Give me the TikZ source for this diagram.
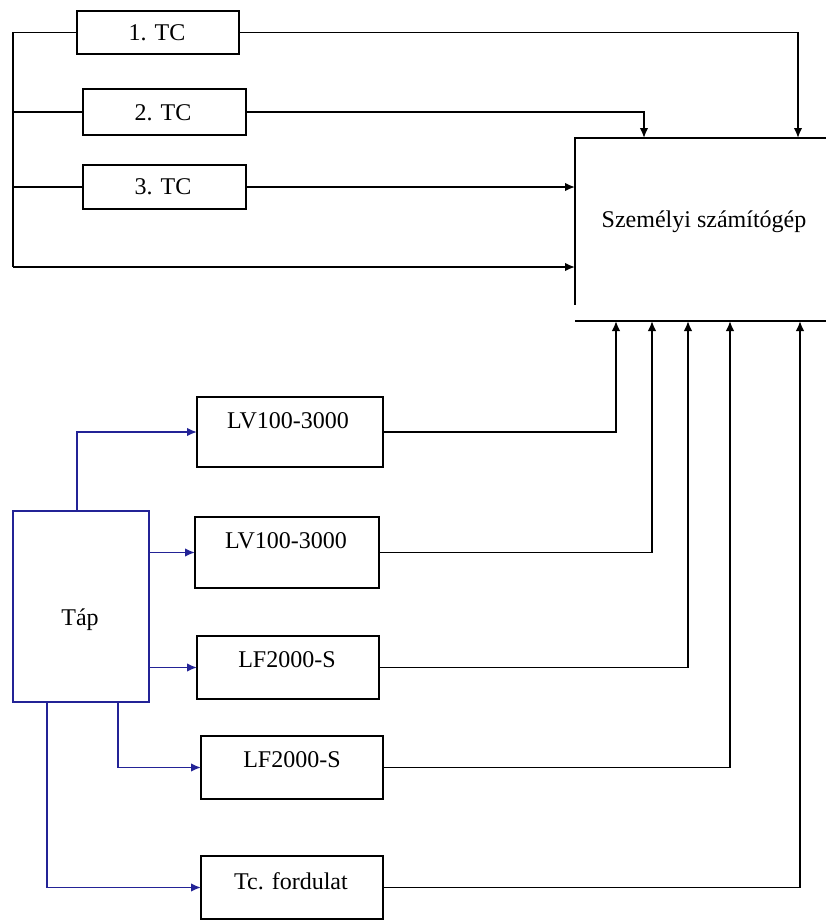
\documentclass[tikz,border=0pt]{standalone}
\usepackage{fontspec}
\setmainfont{Liberation Serif}
\usetikzlibrary{arrows.meta}
\definecolor{bl}{RGB}{35,35,150}
\begin{document}
\begin{tikzpicture}[x=1pt,y=-1pt,
  box/.style={draw=black, line width=1.7pt, inner sep=0pt, outer sep=0pt, rectangle},
  txt/.style={anchor=base, font=\fontsize{24}{27}\selectfont, inner sep=0pt},
  ln/.style={draw=black, line width=1.7pt},
  arr/.style={ln, -{Latex[length=10pt,width=8.5pt]}},
  barr/.style={draw=bl, line width=1.7pt, -{Latex[length=10pt,width=8.5pt]}},
]
\useasboundingbox (0,0) rectangle (826,922);
\fill[white] (0,0) rectangle (826,922);

% TC boxes
\node[box, minimum width=162pt, minimum height=43pt] (tc1) at (158,32.5) {};
\node[box, minimum width=163pt, minimum height=46pt] (tc2) at (164.5,112) {};
\node[box, minimum width=163pt, minimum height=44pt] (tc3) at (164.5,187) {};
\node[txt] (tc1t) at (157,40) {1. TC};
\node[txt] (tc2t) at (163,120) {2. TC};
\node[txt] (tc3t) at (163,194) {3. TC};

% PC (open box)
\coordinate (pcTL) at (575,138);
\coordinate (pcTR) at (826,138);
\coordinate (pcLB) at (575,305);
\coordinate (pcBL) at (575,321);
\coordinate (pcBR) at (826,321);
\draw[ln] (pcTR) -- (pcTL) -- (pcLB);
\draw[ln] (pcBL) -- (pcBR);
\node[txt] (pc) at (704,227) {Személyi számítógép};

\coordinate (in1) at (798,138);
\coordinate (in2) at (644,138);
\coordinate (busB) at (13,267);
\coordinate (in4) at (575,267);

\draw[arr] (tc1.east) -| (in1);
\draw[arr] (tc2.east) -| (in2);
\draw[arr] (tc3.east) -- (tc3.east -| pcTL);
\draw[ln] (tc1.west) -| (busB);
\draw[ln] (tc2.west) -- (tc2.west -| busB);
\draw[ln] (tc3.west) -- (tc3.west -| busB);
\draw[arr] (busB) -- (in4);

% Sensor boxes
\node[box, minimum width=186pt, minimum height=70pt] (lv1) at (290,432) {};
\node[box, minimum width=184pt, minimum height=71pt] (lv2) at (287,552.5) {};
\node[box, minimum width=182pt, minimum height=63pt] (lf1) at (288,667.5) {};
\node[box, minimum width=182pt, minimum height=63pt] (lf2) at (292,767.5) {};
\node[box, minimum width=182pt, minimum height=63pt] (tcf) at (292,887.5) {};
\node[txt] (lv1t) at (288,428) {LV100-3000};
\node[txt] (lv2t) at (286,548) {LV100-3000};
\node[txt] (lf1t) at (287,667) {LF2000-S};
\node[txt] (lf2t) at (292,767) {LF2000-S};
\node[txt] (tcft) at (291,889) {Tc. fordulat};

% Tap
\node[box, draw=bl, minimum width=136pt, minimum height=191pt] (tap) at (81,606.5) {};
\node[txt] (tapt) at (80,625) {Táp};

\coordinate (tapT) at (77,511);
\coordinate (tapB1) at (118,702);
\coordinate (tapB2) at (47,702);
\draw[barr] (tapT) |- (lv1.west);
\draw[barr] (tap.east |- lv2.west) -- (lv2.west);
\draw[barr] (tap.east |- lf1.west) -- (lf1.west);
\draw[barr] (tapB1) |- (lf2.west);
\draw[barr] (tapB2) |- (tcf.west);

% Outputs to PC
\coordinate (b1) at (616,321);
\coordinate (b2) at (652,321);
\coordinate (b3) at (688,321);
\coordinate (b4) at (730,321);
\coordinate (b5) at (800,321);
\draw[arr] (lv1.east) -| (b1);
\draw[arr] (lv2.east) -| (b2);
\draw[arr] (lf1.east) -| (b3);
\draw[arr] (lf2.east) -| (b4);
\draw[arr] (tcf.east) -| (b5);
\end{tikzpicture}
\end{document}
